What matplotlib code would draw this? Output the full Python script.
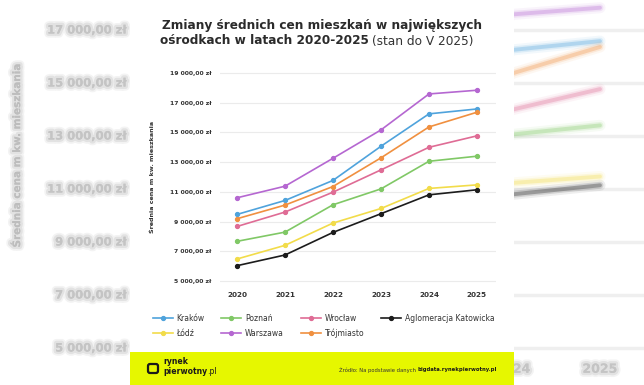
import matplotlib
matplotlib.use("Agg")
import matplotlib.pyplot as plt
import matplotlib.patheffects as pe
from matplotlib.patches import Rectangle, FancyBboxPatch

plt.rcParams['font.family'] = ['DejaVu Sans']

years = [2020, 2021, 2022, 2023, 2024, 2025]
krakow = [9480, 10420, 11770, 14070, 16250, 16580]
lodz = [6480, 7400, 8900, 9880, 11230, 11470]
poznan = [7670, 8290, 10130, 11200, 13060, 13400]
warszawa = [10600, 11380, 13260, 15170, 17590, 17840]
wroclaw = [8670, 9640, 10980, 12480, 14000, 14770]
trojmiasto = [9190, 10110, 11360, 13290, 15370, 16360]
katowice = [6030, 6750, 8270, 9530, 10800, 11140]

names = ["Kraków", "Łódź", "Poznań", "Warszawa", "Wrocław", "Trójmiasto",
         "Aglomeracja Katowicka"]
series = [krakow, lodz, poznan, warszawa, wroclaw, trojmiasto, katowice]
colors = ["#4fa3dc", "#f2dc4a", "#80c866", "#b567d1", "#df6c95", "#f09040",
          "#1c1c1c"]
yticks = [5000, 7000, 9000, 11000, 13000, 15000, 17000, 19000]


def fmt(v):
    return f"{v:,}".replace(",", " ") + ",00 zł"


W, H = 644, 385
fig = plt.figure(figsize=(W / 100, H / 100), dpi=100)
fig.patch.set_facecolor("white")


def fx(x):
    return x / W


def fy(y):
    return 1 - y / H


# soft halo to fake the blur of the background copy
blur = [pe.withStroke(linewidth=6, foreground="#f3f3f3"),
        pe.withStroke(linewidth=3.5, foreground="#e2e2e2"),
        pe.Normal()]

# blurred, enlarged copy of the chart behind the card
bg = fig.add_axes([0, 0, 1, 1], zorder=0)
bg.set_xlim(2018.103, 2025.506)
bg.set_ylim(3604, 18132)
bg.axis("off")
for t in yticks[:-1]:
    bg.plot([2019.7, 2025.85], [t, t], color="#efefef", lw=2.5)
    bg.text(2019.55, t, fmt(t), ha="right", va="center", fontsize=8.3,
            weight="bold", color="#c4c4c4", path_effects=blur)
bg.text(2018.30, 12280, "Średnia cena m kw. mieszkania", rotation=90,
        ha="center", va="center", fontsize=7.5, weight="bold",
        color="#bdbdbd", path_effects=blur)
for s, c in zip(series, colors):
    for lw, a in [(8, 0.07), (5, 0.14), (2.8, 0.3)]:
        bg.plot(years, s, color=c, lw=lw, alpha=a, solid_capstyle="round")
for yr in years[-2:]:
    bg.text(yr, 4200, str(yr), ha="center", va="center", fontsize=9,
            weight="bold", color="#c4c4c4", path_effects=blur)

# card
card = fig.add_axes([fx(130), 0, fx(514) - fx(130), 1], zorder=1)
card.set_xlim(130, 514)
card.set_ylim(385, 0)
card.axis("off")
card.add_patch(Rectangle((130, 0), 384, 385, facecolor="white", lw=0))
card.add_patch(Rectangle((130, 352), 384, 33, facecolor="#e6f700", lw=0))
card.add_patch(FancyBboxPatch((148, 364), 10, 9,
                              boxstyle="round,pad=0,rounding_size=2",
                              facecolor="none", edgecolor="#1a1a1a", lw=1.6))
card.text(163, 362, "rynek", fontsize=5.6, weight="bold", color="#1a1a1a",
          va="center", ha="left")
card.text(163, 371.5, "pierwotny", fontsize=5.6, weight="bold",
          color="#1a1a1a", va="center", ha="left")
card.text(207, 371.5, ".pl", fontsize=5.6, color="#1a1a1a", va="center",
          ha="left")
card.text(418, 370, "Źródło: Na podstawie danych ", fontsize=3.8,
          color="#333333", va="center", ha="right")
card.text(418, 370, "bigdata.rynekpierwotny.pl", fontsize=3.8,
          weight="bold", color="#1a1a1a", va="center", ha="left")

# title
card.text(321.5, 26, "Zmiany średnich cen mieszkań w największych",
          fontsize=8.7, weight="bold", color="#2b2b2b", ha="center",
          va="center")
card.text(369, 41, "ośrodkach w latach 2020-2025", fontsize=8.7,
          weight="bold", color="#2b2b2b", ha="right", va="center")
card.text(372, 41, "(stan do V 2025)", fontsize=8.7, color="#333333",
          ha="left", va="center")

# main chart
ax = fig.add_axes([fx(220), fy(284), fx(496) - fx(220), fy(70) - fy(284)],
                  zorder=2)
ax.set_facecolor("none")
ax.set_xlim(2019.646, 2025.396)
ax.set_ylim(4798, 19202)
for sp in ax.spines.values():
    sp.set_visible(False)
ax.set_yticks(yticks)
ax.set_yticklabels([fmt(t) for t in yticks], fontsize=4.4, weight="bold",
                   color="#333333")
ax.set_xticks(years)
ax.set_xticklabels([str(y) for y in years], fontsize=5.2, weight="bold",
                   color="#333333")
ax.tick_params(length=0)
ax.tick_params(axis="y", pad=6)
ax.tick_params(axis="x", pad=6)
ax.grid(axis="y", color="#ebebeb", lw=0.8)
ax.set_axisbelow(True)
ax.set_ylabel("Średnia cena m kw. mieszkania", fontsize=4.6, weight="bold",
              color="#333333", labelpad=11)

handles = []
for s, c, n in zip(series, colors, names):
    ln, = ax.plot(years, s, color=c, lw=1.2, marker="o", markersize=2.8,
                  label=n)
    handles.append(ln)

leg = fig.legend(handles=handles, labels=names, ncol=4, loc="upper left",
                 bbox_to_anchor=(fx(149), fy(310)), frameon=False,
                 fontsize=5.5, handlelength=2.6, handletextpad=0.5,
                 columnspacing=2.2, labelspacing=0.75, borderpad=0)
for t in leg.get_texts():
    t.set_color("#333333")
leg.set_zorder(3)

fig.savefig("out.png", dpi=100, facecolor="white")
